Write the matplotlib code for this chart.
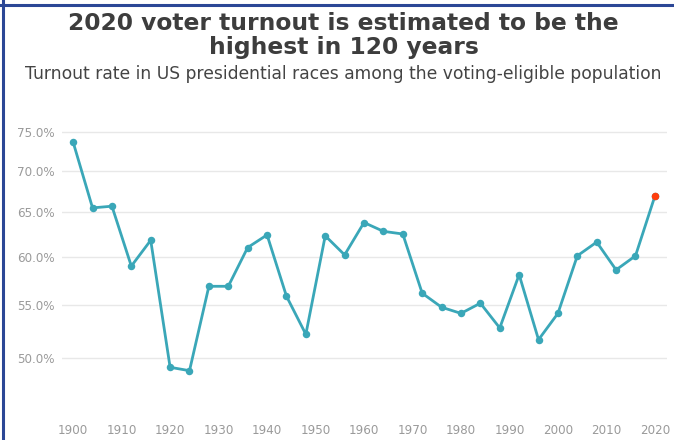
#!/usr/bin/env python3

import matplotlib
matplotlib.use('Agg')
import matplotlib.pyplot as plt
from matplotlib.ticker import FixedLocator, NullLocator, FuncFormatter

# presidential election years and VEP turnout (%)
years = [1900, 1904, 1908, 1912, 1916, 1920, 1924, 1928, 1932, 1936,
         1940, 1944, 1948, 1952, 1956, 1960, 1964, 1968, 1972, 1976,
         1980, 1984, 1988, 1992, 1996, 2000, 2004, 2008, 2012, 2016, 2020]
turnout = [73.7, 65.5, 65.7, 59.0, 61.8, 49.2, 48.9, 56.9, 56.9, 61.0,
           62.4, 55.9, 52.2, 62.3, 60.2, 63.8, 62.8, 62.5, 56.2, 54.8,
           54.2, 55.2, 52.8, 58.1, 51.7, 54.2, 60.1, 61.6, 58.6, 60.1, 66.9]
y_ticks = [50, 55, 60, 65, 70, 75]
x_ticks = list(range(1900, 2021, 10))

TEAL = '#3aa7b8'
RED = '#ff3d0d'
GREY = '#9a9a9a'

fig = plt.figure(figsize=(6.74, 4.4), dpi=100)
ax = fig.add_axes([62 / 674, 0.0523, 605 / 674, 0.680])

ax.plot(years, turnout, color=TEAL, lw=2, marker='o', ms=5.4,
        markeredgewidth=0, zorder=3)
ax.plot(years[-1:], turnout[-1:], 'o', color=RED, ms=5.4,
        markeredgewidth=0, zorder=4)

ax.set_yscale('log')
ax.set_ylim(45, 77)
ax.set_xlim(1897.7, 2022.5)
ax.yaxis.set_major_locator(FixedLocator(y_ticks))
ax.yaxis.set_minor_locator(NullLocator())
ax.yaxis.set_major_formatter(FuncFormatter(lambda v, p: '{:.1f}%'.format(v)))
ax.set_xticks(x_ticks)

ax.grid(axis='y', color='#e8e8e8', lw=1)
ax.set_axisbelow(True)
for s in ax.spines.values():
    s.set_visible(False)
ax.tick_params(length=0, labelsize=8.6, labelcolor=GREY)
ax.tick_params(axis='y', pad=5)
ax.tick_params(axis='x', pad=5)

fig.text(0.51, 0.973, '2020 voter turnout is estimated to be the\nhighest in 120 years',
         ha='center', va='top', fontsize=16.8, fontweight='bold',
         color='#3d3d3d', linespacing=1.08)
fig.text(0.51, 0.852, 'Turnout rate in US presidential races among the voting-eligible population',
         ha='center', va='top', fontsize=12.3, color='#444444')

# blue frame on top and left
fig.add_artist(plt.Line2D([0, 1], [0.9895, 0.9895], transform=fig.transFigure,
                          color='#2c4796', lw=2.2))
fig.add_artist(plt.Line2D([0.0045, 0.0045], [0, 1], transform=fig.transFigure,
                          color='#2c4796', lw=2.2))

fig.savefig('out.png', dpi=100)
